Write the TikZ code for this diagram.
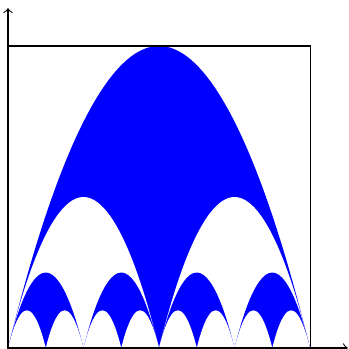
\documentclass[tikz,border=0pt]{standalone}
\usepackage{tikz}

\begin{document}
\begin{tikzpicture}

\useasboundingbox (-0.106,-0.013) rectangle (4.503,4.609);

% level 0 and 1
\fill[blue] (0,0) parabola bend (2,4) (4,0) -- cycle;
\foreach \i in {0,1}
  \fill[white] (2*\i,0) parabola bend (2*\i+1,2) (2*\i+2,0) -- cycle;

% level 2 and 3
\foreach \i in {0,...,3}
  \fill[blue] (\i,0) parabola bend (\i+0.5,1) (\i+1,0) -- cycle;
\foreach \i in {0,...,7}
  \fill[white] (0.5*\i,0) parabola bend (0.5*\i+0.25,0.5) (0.5*\i+0.5,0) -- cycle;

\draw (0,0) rectangle (4,4);

\draw[->] (0,0) -- (4.5,0);
\draw[->] (0,0) -- (0,4.5);

\end{tikzpicture}
\end{document}
